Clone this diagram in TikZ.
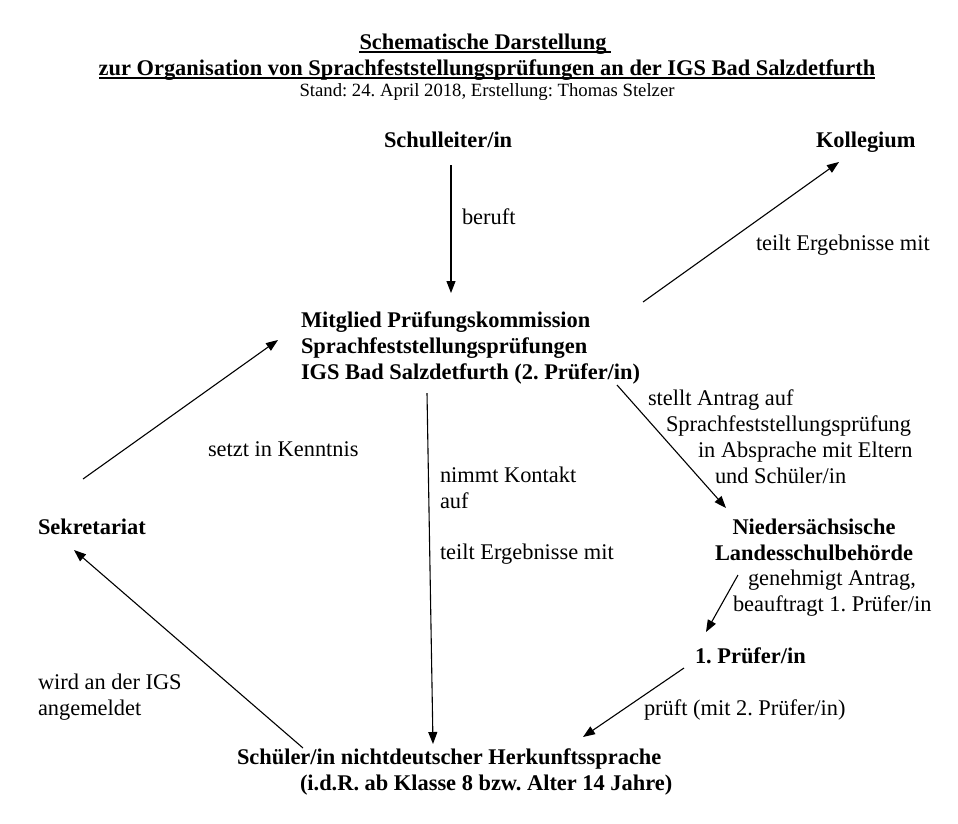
\documentclass[tikz,border=0pt]{standalone}
\usepackage{fontspec}
\setmainfont{Liberation Serif}
\usetikzlibrary{arrows.meta}
\frenchspacing
\begin{document}
\begin{tikzpicture}[x=1pt,y=-1pt,
  every node/.style={inner sep=0pt,outer sep=0pt,font=\fontsize{22.4}{26}\selectfont},
  actor/.style={anchor=base west,font=\fontsize{22.4}{26}\selectfont\bfseries,align=left},
  lbl/.style={anchor=base west,align=left},
  flow/.style={line width=1.1pt,-{Triangle[length=12pt,width=9pt]}},
  uline/.style={line width=1.4pt}]
\useasboundingbox (0,0) rectangle (958,823);
% title
\node[anchor=base,font=\fontsize{22.4}{26}\selectfont\bfseries] (t1) at (483,49) {Schematische Darstellung};
\node[anchor=base,font=\fontsize{22.4}{26}\selectfont\bfseries] (t2) at (487,75) {zur Organisation von Sprachfeststellungsprüfungen an der IGS Bad Salzdetfurth};
\node[anchor=base,font=\fontsize{18.7}{22}\selectfont] (t3) at (487,96) {Stand: 24. April 2018, Erstellung: Thomas Stelzer};
\coordinate (u1a) at (359,52); \coordinate (u1b) at (611,52);
\coordinate (u2a) at (99,78); \coordinate (u2b) at (875,78);
\draw[uline] (u1a) -- (u1b);
\draw[uline] (u2a) -- (u2b);
% actors (multi-line nodes: base = last line)
\node[actor] (sl) at (384,147) {Schulleiter/in};
\node[actor] (kol) at (816,147) {Kollegium};
\node[actor] (mit) at (301,379) {Mitglied Prüfungskommission\\Sprachfeststellungsprüfungen\\IGS Bad Salzdetfurth (2. Prüfer/in)};
\node[actor] (sek) at (38,534) {Sekretariat};
\node[actor,anchor=base,align=center] (nlsb) at (814,560) {Niedersächsische\\Landesschulbehörde};
\node[actor] (p1) at (695,663) {1. Prüfer/in};
\node[actor] (sch) at (237,790) {Schüler/in nichtdeutscher Herkunftssprache\\\hspace*{63pt}(i.d.R. ab Klasse 8 bzw. Alter 14 Jahre)};
% labels
\node[lbl] (lberuft) at (462,224) {beruft};
\node[lbl] (lkol) at (756,250) {teilt Ergebnisse mit};
\node[lbl] (lantrag) at (648,483) {stellt Antrag auf\\\hspace*{18pt}Sprachfeststellungsprüfung\\\hspace*{50pt}in Absprache mit Eltern\\\hspace*{67pt}und Schüler/in};
\node[lbl] (lgen) at (733,611) {\hspace*{15pt}genehmigt Antrag,\\beauftragt 1. Prüfer/in};
\node[lbl] (lsetzt) at (208,456) {setzt in Kenntnis};
\node[lbl] (lkontakt) at (440,508) {nimmt Kontakt\\auf};
\node[lbl] (lerg) at (440,559) {teilt Ergebnisse mit};
\node[lbl] (lanm) at (38,715) {wird an der IGS\\angemeldet};
\node[lbl] (lpr) at (644,715) {prüft (mit 2. Prüfer/in)};
% connector end points
\coordinate (a1s) at (451,165); \coordinate (a1e) at (451,293);
\coordinate (a2s) at (643,302); \coordinate (a2e) at (839,162);
\coordinate (a3s) at (83,479);  \coordinate (a3e) at (278,340);
\coordinate (a4s) at (617,385); \coordinate (a4e) at (726,508);
\coordinate (a5s) at (427,393); \coordinate (a5e) at (433,744);
\coordinate (a6s) at (738,575); \coordinate (a6e) at (706,632);
\coordinate (a7s) at (684,668); \coordinate (a7e) at (583,737);
\coordinate (a8s) at (303,748); \coordinate (a8e) at (74,550);
\draw[flow] (a1s) -- (a1e);
\draw[flow] (a2s) -- (a2e);
\draw[flow] (a3s) -- (a3e);
\draw[flow] (a4s) -- (a4e);
\draw[flow] (a5s) -- (a5e);
\draw[flow] (a6s) -- (a6e);
\draw[flow] (a7s) -- (a7e);
\draw[flow] (a8s) -- (a8e);
\end{tikzpicture}
\end{document}
